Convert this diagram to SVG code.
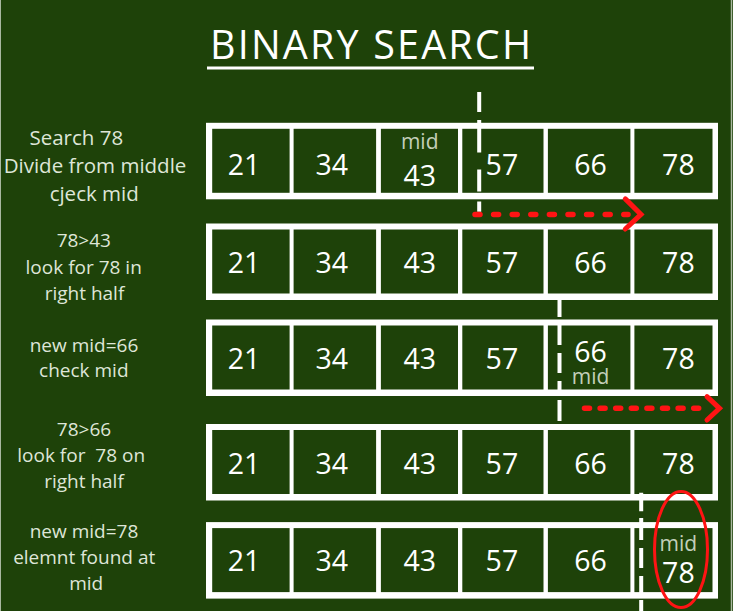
<svg xmlns="http://www.w3.org/2000/svg" xmlns:xlink="http://www.w3.org/1999/xlink" width="733" height="611" viewBox="0 0 733 611">
<style>
.bg{fill:#1e4209}
.frame{fill:#ffffff}
.cell{fill:#1e4209}
.num{font-family:"Open Sans","Liberation Sans",sans-serif;font-size:28.5px;fill:#ffffff;text-anchor:middle}
.mid{font-family:"Open Sans","Liberation Sans",sans-serif;font-size:21px;fill:#c3cfba;text-anchor:middle}
.lbl{font-family:"Open Sans","Liberation Sans",sans-serif;font-size:19px;fill:#dfe6d8;text-anchor:middle;white-space:pre}
.lbl1{font-size:20.5px}
.title{font-family:"Open Sans","Liberation Sans",sans-serif;font-size:39.5px;fill:#ffffff}
.dash{stroke:#ffffff;stroke-width:4;fill:none}
.dots{stroke:#ff1414;stroke-width:5.5;fill:none;stroke-linecap:round}
.head{stroke:#ff1414;stroke-width:5;fill:none;stroke-linecap:round;stroke-linejoin:miter}
</style>
<defs>
<g id="rowbox">
<rect class="frame" x="206" y="0" width="512" height="76.5"/>
<rect class="cell" x="212.2" y="6" width="77.4" height="64"/>
<rect class="cell" x="293.6" y="6" width="82.5" height="64"/>
<rect class="cell" x="380.9" y="6" width="77.1" height="64"/>
<rect class="cell" x="462.3" y="6" width="81.2" height="64"/>
<rect class="cell" x="547.9" y="6" width="82.5" height="64"/>
<rect class="cell" x="634.4" y="6" width="78.1" height="64"/>
</g>
</defs>
<rect class="bg" x="0" y="0" width="733" height="611"/>
<line x1="0.5" y1="0" x2="0.5" y2="611" stroke="#a9b8a0" stroke-width="1"/>
<line x1="731.5" y1="0" x2="731.5" y2="611" stroke="#a9b8a0" stroke-width="1.5"/>

<g id="title">
<text class="title" x="210" y="58.5" textLength="321" lengthAdjust="spacing">BINARY SEARCH</text>
<rect x="207" y="66.5" width="327" height="3" fill="#ffffff"/>
</g>

<g id="step1-label">
<text class="lbl lbl1" x="76.3" y="145">Search 78</text>
<text class="lbl lbl1" x="95" y="173.3">Divide from middle</text>
<text class="lbl lbl1" x="94.2" y="201">cjeck mid</text>
</g>
<g id="step2-label">
<text class="lbl" x="83.8" y="246.7">78&gt;43</text>
<text class="lbl" x="83.7" y="273.5">look for 78 in</text>
<text class="lbl" x="84.5" y="300">right half</text>
</g>
<g id="step3-label">
<text class="lbl" x="84" y="351.7">new mid=66</text>
<text class="lbl" x="83.8" y="377.3">check mid</text>
</g>
<g id="step4-label">
<text class="lbl" x="84" y="435.7">78&gt;66</text>
<text class="lbl" x="81.2" y="461.7">look for  78 on</text>
<text class="lbl" x="84" y="488.3">right half</text>
</g>
<g id="step5-label">
<text class="lbl" x="84" y="538.3">new mid=78</text>
<text class="lbl" x="84.2" y="564">elemnt found at</text>
<text class="lbl" x="86.2" y="590">mid</text>
</g>

<g id="row1" transform="translate(0,122.8)">
<use xlink:href="#rowbox"/>
<text class="num" x="244" y="52.4">21</text>
<text class="num" x="331.8" y="52.4">34</text>
<text class="mid" x="419.7" y="26.4">mid</text>
<text class="num" x="419.7" y="62.9">43</text>
<text class="num" x="501.9" y="52.4">57</text>
<text class="num" x="590.5" y="52.4">66</text>
<text class="num" x="678.4" y="52.4">78</text>
</g>
<g id="row2" transform="translate(0,223.5)">
<use xlink:href="#rowbox"/>
<text class="num" x="244" y="49">21</text>
<text class="num" x="331.8" y="49">34</text>
<text class="num" x="419.7" y="49">43</text>
<text class="num" x="501.9" y="49">57</text>
<text class="num" x="590.5" y="49">66</text>
<text class="num" x="678.4" y="49">78</text>
</g>
<g id="row3" transform="translate(0,319.5)">
<use xlink:href="#rowbox"/>
<text class="num" x="244" y="49.7">21</text>
<text class="num" x="331.8" y="49.7">34</text>
<text class="num" x="419.7" y="49.7">43</text>
<text class="num" x="501.9" y="49.7">57</text>
<text class="num" x="590.5" y="42.9">66</text>
<text class="mid" x="590.5" y="64.2">mid</text>
<text class="num" x="678.4" y="49.7">78</text>
</g>
<g id="row4" transform="translate(0,424)">
<use xlink:href="#rowbox"/>
<text class="num" x="244" y="50">21</text>
<text class="num" x="331.8" y="50">34</text>
<text class="num" x="419.7" y="50">43</text>
<text class="num" x="501.9" y="50">57</text>
<text class="num" x="590.5" y="50">66</text>
<text class="num" x="678.4" y="50">78</text>
</g>
<g id="row5" transform="translate(0,522.1)">
<use xlink:href="#rowbox"/>
<text class="num" x="244" y="49.4">21</text>
<text class="num" x="331.8" y="49.4">34</text>
<text class="num" x="419.7" y="49.4">43</text>
<text class="num" x="501.9" y="49.4">57</text>
<text class="num" x="590.5" y="49.4">66</text>
<text class="mid" x="678.4" y="29.1">mid</text>
<text class="num" x="678.4" y="61.2">78</text>
</g>

<g id="connectors">
<path class="dash" d="M479.2 92 V112 M479.2 120 V152.5 M479.2 169.5 V191.5 M479.2 201.5 V211.7"/>
<path class="dash" d="M559.5 299.5 V317 M559.5 325 V345 M559.5 353 V373 M559.5 381 V394 M559.5 400 V421"/>
<path class="dash" d="M641.2 492.7 V511.3 M641.2 518 V540 M641.2 548 V568 M641.2 576 V596 M641.2 600 V611"/>
<path class="dots" d="M475 214.4 H628" stroke-dasharray="5 13.6"/>
<path class="head" d="M625.3 198.9 L641 214.4 L625.3 229"/>
<path class="dots" d="M584.5 408.3 H707" stroke-dasharray="5 10.6"/>
<path class="head" d="M707 396.7 L719.5 408.3 L707 420"/>
<ellipse cx="681" cy="549.5" rx="26.5" ry="58" fill="none" stroke="#ff1414" stroke-width="3"/>
</g>
</svg>
